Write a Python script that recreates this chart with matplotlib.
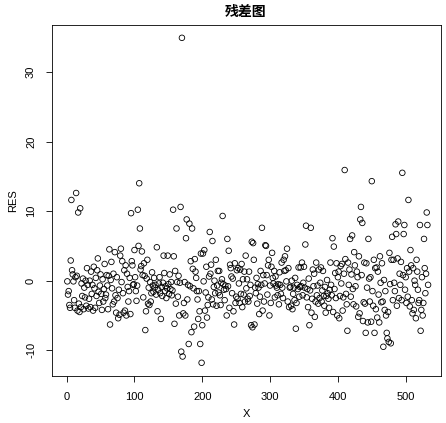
import numpy as np
import matplotlib
matplotlib.use("Agg")
import matplotlib.pyplot as plt

plt.rcParams['font.family'] = ['Liberation Sans', 'Noto Sans CJK SC', 'DejaVu Sans']

title = "残差图"
xlabel = "X"
ylabel = "RES"
xticks = [0, 100, 200, 300, 400, 500]
yticks = [-10, 0, 10, 20, 30]

res_part1 = [-0.1, -2.0, -1.5, -3.5, -3.9, 2.9, 11.6, 1.5, 0.9, -0.1,
             -2.8, -3.9, 0.5, 12.6, 0.7, -4.3, 9.8, -3.3, -4.5, 10.4,
             -3.8, -0.4, -2.2, 0.3, -4.1, -1.0, -2.4, 0.0, -3.6, 1.8,
             -0.6, -4.0, -2.6, 0.0, -3.8, 1.3, -1.9, -0.6, -4.3, 2.0,
             -1.1, -3.9, 0.4, -2.2, 1.5, 3.2, -1.6, -3.2, -0.7, 0.9,
             -1.9, -4.2, 0.2, -3.0, -1.2, 2.4]
res_part2 = [-2.5, -2.0, 0.8, -0.7, -4.1, 0.7, 4.5, -6.3, 0.1, 2.7,
             -1.1, -3.4, 1.0, -3.0, 4.1, -2.1, -4.6, 0.5, -2.5, -5.4,
             -1.3, -4.9, 3.6, 4.6, -0.2, 2.8, -1.8, -4.6, 1.5, -4.3,
             2.2, -5.0, 1.0, -0.9, -3.0, -1.5, 0.4, -4.8, 9.7, 2.8,
             2.2, -0.6, -0.5, 4.4, 0.5, -1.5, -2.9, -0.7, 10.2, 5.0,
             14.0, 7.5, 1.6, 2.1, 4.2, 0.8, -2.4, 2.5, 0.7, -7.1,
             -4.4, 0.3, 3.0, -3.3, -1.0, -3.5, -0.2, -3.0, -1.8, 1.2,
             -0.7, -1.6]
res_part3 = [0.4, -1.0, -0.6, -2.0, 4.8, -4.4, -1.3, -0.4, 0.5, -1.8,
             -5.5, -0.9, -2.2, -0.3, 3.6, 1.1, -1.5, -0.8, -2.5, -1.1,
             3.6, -0.5, -1.9, 0.9, -1.2, -0.2, -2.1, -1.4, 10.2, 3.5,
             -6.2, 1.4, -3.3, 7.5, -0.2, -2.3, 0.7, -5.0, -0.3, 10.6,
             -10.2, 34.9, -10.9, -4.7, -3.2, -0.2, -5.0, 6.1, 8.8, -2.7,
             -0.6, -9.1, 8.2, -0.8, 2.8, -7.4, 7.5, 1.7, -1.1, -6.6,
             3.1, 1.3, 0.4, -1.5, -2.7, -5.5, -1.5, -4.4, -9.1, 3.9,
             -11.8, -6.4]
res_part4 = [3.9, -0.1, 4.4, -4.3, -1.7, 2.0, -5.3, -3.5, -2.4, 0.6,
             7.0, 1.0, 2.3, -2.7, 5.7, -3.4, -0.9, 0.0, -1.8, 3.0,
             -3.6, -0.7, 1.4, -1.7, 1.4, -2.1, -3.5, -0.3, 0.2, 9.3,
             -0.5, -1.3, -2.8, -0.7, -1.2, -5.0, 6.0, -0.8, 4.3, -3.9,
             2.3, 1.8, 0.6, -1.8, 0.3, -4.4, -6.3, 2.5, -3.2, -2.3,
             1.5, -2.6, 1.8, -0.4, -3.2, 1.6, -1.9, 2.4, -3.8, 0.2,
             -2.0, 1.3, -3.0, 3.6, -1.1, 0.2, -2.6, -3.0, 1.3, -2.2,
             -0.6, -6.4, 5.6]
res_part5 = [-6.7, 5.4, 3.0, -6.3, -1.0, -1.8, 0.4, -3.3, -0.5, -1.0,
             -4.8, -2.3, 1.4, -0.6, 7.6, -4.3, 0.8, -3.0, -0.4, 5.1,
             5.0, 0.8, -2.0, 2.2, 3.0, -5.0, -0.7, -3.2, 2.0, 4.0,
             0.4, -0.4, 1.4, -2.4, 0.6, -0.7, -1.0, -2.1, -0.5, -3.4,
             1.2, -0.6, -1.9, 2.6, -1.0, -2.5, 3.0, 1.4, 3.5, 1.5,
             -0.1, 4.6, -3.0, 1.8, -3.8, -1.0, -0.9, -3.6, 0.0, -4.1,
             -1.9, -1.0, -2.8, 0.4, -6.9, -3.2, -0.6, -1.2, 1.9, -2.3,
             -0.9, 1.9]
res_part6 = [-0.8, 2.6, -2.1, -0.3, 2.0, -1.0, 5.2, 7.9, -2.4, -1.2,
             -3.8, 0.3, -6.4, -1.4, 7.6, -4.6, -2.6, 1.6, -0.8, 1.0,
             -5.2, -3.0, 2.6, -2.1, -0.7, -3.3, 1.6, -2.5, -0.3, 1.9,
             -3.0, -1.4, 1.4, -2.2, -3.6, -0.9, -4.6, -2.2, 0.1, -1.8,
             -2.6, -3.9, -1.3, 2.6, -0.6, -2.1, 6.1, -4.5, 4.9, -1.2,
             1.1, -2.5, 2.5, -5.0, 0.5, 1.3, -5.4, -2.2, 2.1, -0.4,
             2.4, -4.3, -2.4, 1.0, 15.9, 3.1, -1.9, -3.4, -7.2, 2.6,
             -0.6, 1.6, 6.0]
res_part7 = [-2.3, 0.9, 6.5, -1.2, -3.4, 4.1, 2.2, -0.8, -3.7, 1.3,
             0.5, -5.2, 3.5, -4.7, 8.8, 10.6, 0.8, 8.3, -5.8, -3.1,
             2.6, -3.3, -7.5, 2.5, -1.0, -6.0, 6.0, 0.3, -3.0, 0.5,
             -5.9, 14.3, -1.5, -3.6, 3.0, -7.5, 1.8, -4.1, 1.9, -5.3,
             1.3, -2.0, -6.0, 3.5, -0.3, -3.1, 2.5, -3.0, -9.5, 0.1,
             -4.2, -1.5, -5.0, -7.5, -8.3, -4.5, -8.8, 4.0, -0.5, -9.0,
             3.0, 6.3, -2.8, 3.0, -0.3, -1.5, 8.1, 6.7, -3.6, 3.2,
             8.5, -2.5, 1.0]
res_part8 = [-0.6, 2.7, -2.8, 15.5, 0.8, 6.7, 8.0, -1.3, 0.5, -3.2,
             1.8, -2.3, 11.6, 1.3, -3.7, 4.4, 2.2, -2.8, -4.7, 1.8,
             -4.2, 0.0, -0.6, -5.4, 3.0, 1.3, -1.3, -3.2, -2.8, 8.0,
             -7.2, -4.2, 0.5, -5.0, -3.2, 6.0, 1.8, -1.8, 1.0, 9.8,
             8.0, -0.6]

res = np.array(res_part1 + res_part2 + res_part3 + res_part4 +
               res_part5 + res_part6 + res_part7 + res_part8)
x = np.arange(1, len(res) + 1)

W, H = 446, 423
fig = plt.figure(figsize=(W / 100, H / 100), dpi=100)
left, right, top, bottom = 52, 440.7, 25.3, 376
ax = fig.add_axes([left / W, 1 - bottom / H, (right - left) / W, (bottom - top) / H])

ax.scatter(x, res, s=16, facecolors='none', edgecolors='black', linewidths=0.6)

ax.set_xlim(-21.6, 551.6)
ax.set_ylim(-13.7, 36.7)
ax.set_xticks(xticks)
ax.set_yticks(yticks)
ax.set_yticklabels([str(t) for t in yticks], rotation=90, va='center')
ax.tick_params(direction='out', length=4.5, width=0.6, pad=7, labelsize=8, colors='black')
for s in ax.spines.values():
    s.set_linewidth(0.6)
    s.set_color('black')

ax.set_xlabel(xlabel, fontsize=8, labelpad=5)
ax.set_ylabel(ylabel, fontsize=8, labelpad=6)
fig.text(246 / W, 1 - 12 / H, title, ha='center', va='center', fontsize=10,
         fontweight='bold', family=['Noto Sans CJK SC', 'DejaVu Sans'])

fig.savefig("out.png", dpi=100)
